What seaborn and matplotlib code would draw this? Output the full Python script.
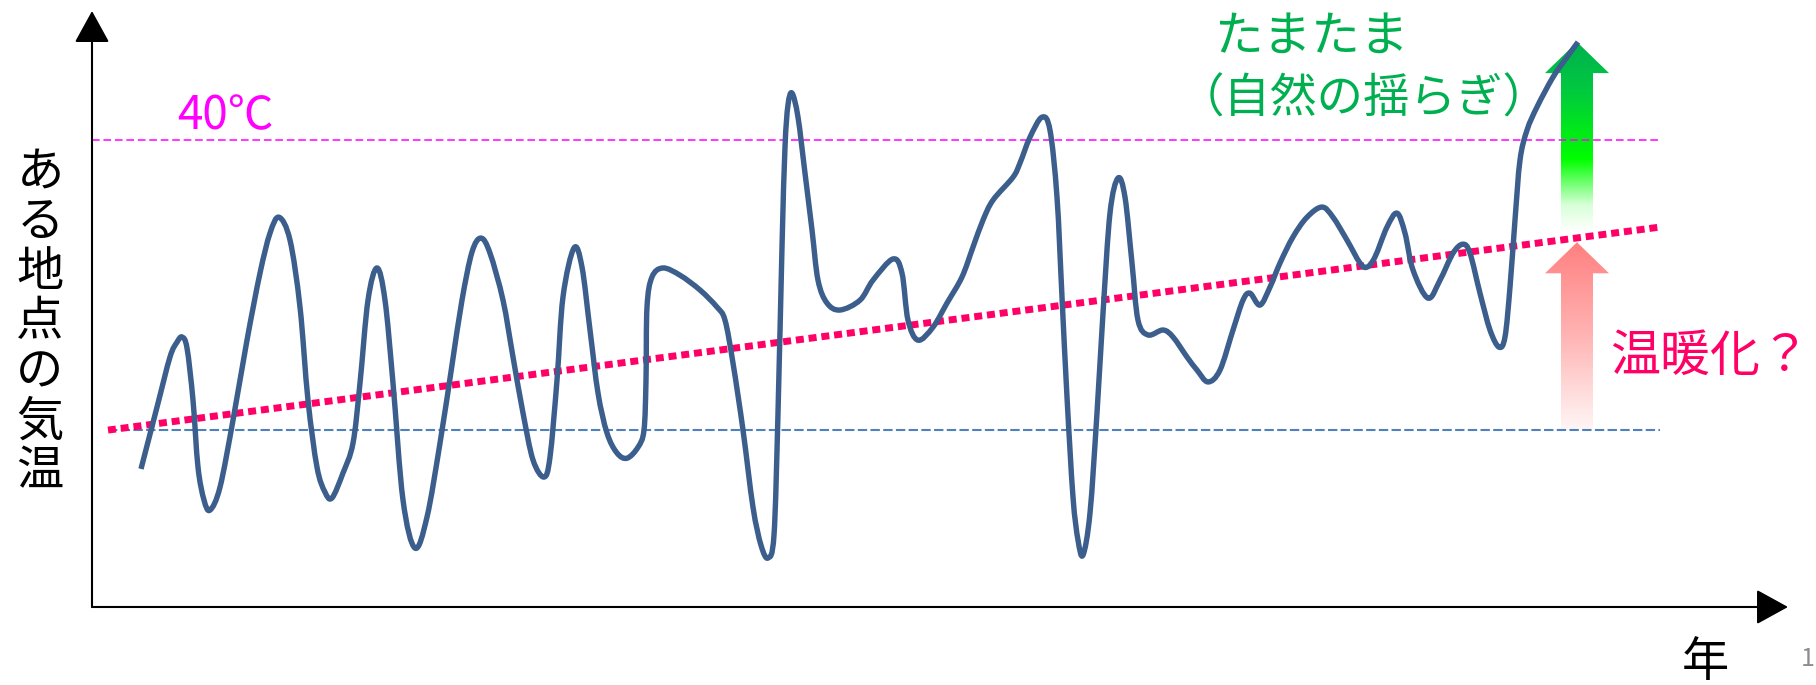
import numpy as np
import matplotlib
matplotlib.use("Agg")
import matplotlib.pyplot as plt
import seaborn as sns
from matplotlib.colors import LinearSegmentedColormap
from matplotlib.patches import Polygon, PathPatch
from matplotlib.path import Path

# sketch of "temperature at some place" vs year
years = [4.9, 6.5, 7.8, 8.5, 9.0, 9.5, 10.1, 10.6, 11.2, 11.8, 12.8, 14.1, 15.5, 16.8, 17.8, 18.7,
         19.8, 20.8, 21.6, 22.5, 23.3, 24.0, 25.1, 26.1, 26.8, 27.6, 28.5, 29.3, 30.1, 31.1, 32.3,
         33.5, 34.8, 36.0, 37.0, 38.0, 38.9, 39.8, 41.1, 42.1, 43.1, 44.1, 45.2, 45.8, 46.5, 47.1,
         48.2, 49.0, 49.8, 50.6, 51.5, 52.5, 53.5, 54.6, 55.2, 55.4, 55.5, 56.0, 57.1, 58.8, 60.8,
         62.5, 63.3, 64.1, 65.1, 66.1, 66.9, 67.6, 68.2, 68.6, 69.0, 69.3, 69.6, 70.0, 70.6, 71.3,
         72.0, 72.6, 73.5, 74.8, 76.8, 78.1, 80.1, 81.0, 81.6, 82.6, 84.1, 85.5, 87.0, 88.1, 89.1,
         90.1, 92.1, 92.8, 93.8, 95.0, 95.8, 96.5, 97.0, 97.5, 98.1, 98.6, 99.1, 99.8, 100.5, 101.1,
         101.8, 102.6, 103.3, 104.0, 104.6, 105.6, 107.1, 108.1, 109.5, 110.5, 111.6, 112.8, 114.1,
         115.1, 115.8, 116.8, 117.8, 118.8, 120.1, 121.5, 123.0, 124.1, 125.5, 126.8, 127.5, 128.3,
         129.5, 130.5, 131.3, 132.1, 133.6, 134.8, 136.1, 137.1, 137.8, 138.8, 139.8, 140.7, 141.3,
         141.8, 142.3, 142.8, 143.5, 144.5, 146.1, 147.5, 148.6]
temps = [28.66, 30.79, 32.52, 33.03, 33.21, 32.83, 31.03, 28.72, 27.59, 27.24, 28.03, 30.34, 33.10,
         35.41, 36.79, 37.34, 36.55, 34.24, 31.03, 28.72, 27.86, 27.66, 28.52, 29.55, 31.62, 34.48,
         35.59, 34.48, 31.62, 27.59, 25.93, 27.00, 29.55, 32.24, 34.48, 36.14, 36.62, 36.10, 34.48,
         32.52, 30.59, 28.97, 28.38, 29.07, 31.72, 34.59, 36.28, 35.62, 33.45, 31.28, 29.90, 29.21,
         29.03, 29.41, 30.00, 31.72, 34.24, 35.28, 35.59, 35.34, 34.83, 34.24, 33.79, 32.31, 30.00,
         27.34, 26.03, 25.59, 26.38, 30.59, 36.31, 39.76, 41.21, 41.62, 40.79, 38.86, 36.90, 35.17,
         34.38, 34.14, 34.48, 35.17, 35.90, 35.41, 33.79, 33.10, 33.55, 34.38, 35.28, 36.31, 37.24,
         37.93, 38.72, 39.21, 40.10, 40.79, 40.34, 38.03, 34.59, 31.14, 27.69, 26.21, 25.69, 27.14,
         30.59, 34.03, 37.48, 38.69, 38.03, 35.76, 33.79, 33.28, 33.45, 33.21, 32.52, 32.07, 31.66,
         32.07, 33.45, 34.48, 34.72, 34.31, 34.93, 35.76, 36.66, 37.34, 37.69, 37.34, 36.55, 35.76,
         35.62, 35.97, 37.00, 37.48, 36.79, 35.52, 34.55, 35.17, 36.10, 36.41, 36.10, 34.72, 33.45,
         32.86, 33.21, 34.93, 37.24, 39.31, 40.34, 41.14, 42.17, 42.86, 43.38]

# reference lines and the warming trend
line_years = [1.6, 156.8]
trend_temps = [30.0, 37.0]
base_temp = 30.0
hot_temp = 40.0

ylabel_chars = list("ある地点の気温")

sns.set_style("white")
plt.rcParams['font.family'] = ['Noto Sans CJK JP', 'DejaVu Sans']

fig = plt.figure(figsize=(18.16, 6.85), dpi=100)
ax = fig.add_axes([0, 0, 1, 1])
ax.set_axis_off()

x_lo, x_hi = -9.2, 172.4
y_lo, y_hi = 21.21, 44.83

# 40C line and the base line
ax.plot([0, line_years[1]], [hot_temp, hot_temp], color='#ff00ff', lw=1.1,
        linestyle=(0, (5, 2.5)), zorder=2)
ax.plot(line_years, [base_temp, base_temp], color='#4f81bd', lw=1.5,
        linestyle=(0, (4.5, 1.6)), zorder=2)

# gradient arrows (natural swing = green, warming = pink)
arrow_x = 148.5
shaft_w, head_w, head_len = 1.6, 3.2, 1.07
trend_at_arrow = np.interp(arrow_x, line_years, trend_temps)


def grad_arrow(y0, y1, cmap):
    verts = [(arrow_x - shaft_w, y0), (arrow_x + shaft_w, y0), (arrow_x + shaft_w, y1 - head_len),
             (arrow_x + head_w, y1 - head_len), (arrow_x, y1), (arrow_x - head_w, y1 - head_len),
             (arrow_x - shaft_w, y1 - head_len)]
    poly = Polygon(verts, closed=True, facecolor='none', edgecolor='none')
    ax.add_patch(poly)
    grad = np.linspace(0, 1, 256).reshape(-1, 1)
    im = ax.imshow(grad, cmap=cmap, origin='lower', aspect='auto',
                   extent=[arrow_x - head_w, arrow_x + head_w, y0, y1], zorder=1)
    im.set_clip_path(poly)


green_cmap = LinearSegmentedColormap.from_list(
    'g', [(0, '#ffffff'), (0.14, '#d8ffd8'), (0.38, '#00ff00'), (0.75, '#00c840'), (1, '#00b050')])
pink_cmap = LinearSegmentedColormap.from_list(
    'p', [(0, '#fff6f6'), (0.5, '#ffb4b4'), (1, '#ff8080')])
grad_arrow(trend_at_arrow + 0.2, temps[-1], green_cmap)
grad_arrow(base_temp, trend_at_arrow - 0.15, pink_cmap)

# trend (dotted)
sns.lineplot(x=line_years, y=trend_temps, ax=ax, color='#ff0066', lw=5,
             linestyle=(0, (1.15, 0.7)), zorder=3)

# temperature curve, drawn as a smoothed line (like an Office smooth line)
pts = np.column_stack([years, temps])
ext = np.vstack([pts[:1], pts, pts[-1:]])
verts = [pts[0]]
codes = [Path.MOVETO]
for i in range(1, len(ext) - 2):
    p0, p1, p2, p3 = ext[i - 1], ext[i], ext[i + 1], ext[i + 2]
    verts += [p1 + (p2 - p0) / 6, p2 - (p3 - p1) / 6, p2]
    codes += [Path.CURVE4] * 3
ax.add_patch(PathPatch(Path(verts, codes), facecolor='none', edgecolor='#3b5e8c',
                       lw=3.9, joinstyle='round', capstyle='butt', zorder=4))

# axes arrows
arrow_kw = dict(arrowstyle='-|>,head_length=0.4,head_width=0.22', mutation_scale=50,
                color='black', lw=1.5, shrinkA=0, shrinkB=0)
ax.annotate('', xy=(0, 44.45), xytext=(0, 23.9), arrowprops=arrow_kw)
ax.annotate('', xy=(169.6, 23.9), xytext=(0, 23.9), arrowprops=arrow_kw)

# texts
ax.text(8.5, hot_temp + 0.85, '40℃', color='#ff00ff', fontsize=33, ha='left', va='center')
ax.text(112.2, 43.55, 'たまたま', color='#00b050', fontsize=35, ha='left', va='center')
ax.text(108.6, 41.4, '（自然の揺らぎ）', color='#00b050', fontsize=33.5, ha='left', va='center')
ax.text(151.8, 32.52, '温暖化？', color='#ff0066', fontsize=36, ha='left', va='center')
for i, ch in enumerate(ylabel_chars):
    ax.text(-5.2, 38.88 - i * 1.72, ch, color='black', fontsize=34, ha='center', va='center')
ax.text(161.3, 21.97, '年', color='black', fontsize=34, ha='center', va='center')
ax.text(171.6, 22.10, '1', color='#8c8c8c', fontsize=18, ha='center', va='center')

ax.set_xlim(x_lo, x_hi)
ax.set_ylim(y_lo, y_hi)
if ax.get_legend():
    ax.get_legend().remove()

fig.savefig('out.png', dpi=100)
